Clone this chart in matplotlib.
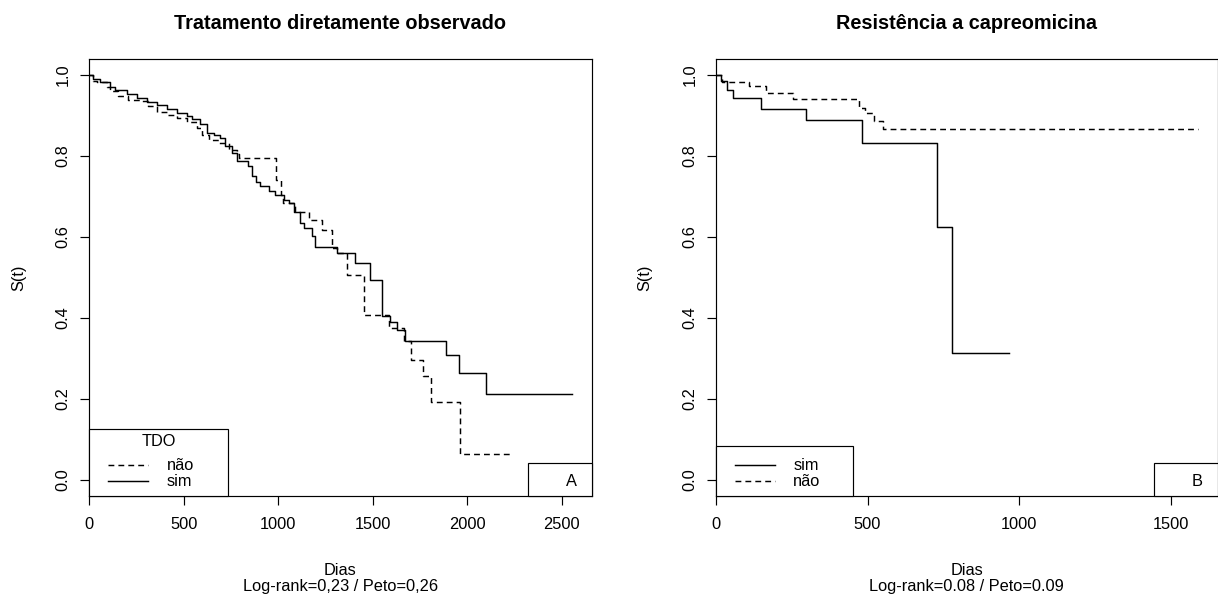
import matplotlib
matplotlib.use("Agg")
import matplotlib.pyplot as plt
from matplotlib.patches import Rectangle
from matplotlib.lines import Line2D

# curvas de Kaplan-Meier (tempo em dias, S(t) a partir daquele tempo)
tdo_sim_t = [0, 21, 57, 110, 136, 198, 251, 304, 357, 410, 463, 516, 542, 586, 622, 660, 692, 719, 754,
             781, 842, 860, 880, 905, 949, 985, 1029, 1055, 1081, 1116, 1134, 1178, 1195, 1310, 1407, 1487, 1549,
             1593, 1628, 1672, 1889, 1954, 2096, 2555]
tdo_sim_s = [1.0, 0.99, 0.982, 0.972, 0.964, 0.953, 0.943, 0.934, 0.926, 0.916, 0.906, 0.898, 0.891, 0.879,
             0.858, 0.852, 0.845, 0.825, 0.808, 0.788, 0.775, 0.75, 0.735, 0.725, 0.714, 0.703, 0.692, 0.684, 0.663,
             0.635, 0.622, 0.602, 0.575, 0.56, 0.536, 0.495, 0.405, 0.39, 0.371, 0.344, 0.308, 0.264, 0.212, 0.212]
tdo_nao_t = [0, 20, 39, 92, 110, 154, 207, 269, 313, 357, 410, 463, 516, 569, 595, 631, 684, 737, 781, 790,
             988, 1015, 1027, 1090, 1160, 1230, 1283, 1310, 1364, 1451, 1586, 1663, 1702, 1766, 1808, 1963, 2228]
tdo_nao_s = [1.0, 0.985, 0.983, 0.972, 0.961, 0.949, 0.939, 0.937, 0.924, 0.909, 0.902, 0.893, 0.885, 0.869,
             0.853, 0.841, 0.833, 0.816, 0.805, 0.795, 0.74, 0.704, 0.684, 0.663, 0.643, 0.617, 0.573, 0.56, 0.507,
             0.408, 0.375, 0.342, 0.297, 0.256, 0.193, 0.065, 0.065]

cap_sim_t = [0, 15, 37, 55, 147, 297, 481, 728, 779, 965]
cap_sim_s = [1.0, 0.985, 0.964, 0.943, 0.917, 0.889, 0.833, 0.625, 0.3125, 0.3125]
cap_nao_t = [0, 19, 110, 164, 253, 473, 490, 522, 550, 1591]
cap_nao_s = [1.0, 0.983, 0.974, 0.957, 0.941, 0.92, 0.906, 0.887, 0.868, 0.868]

titulos = ["Tratamento diretamente observado", "Resistência a capreomicina"]
testes = ["Log-rank=0,23 / Peto=0,26", "Log-rank=0.08 / Peto=0.09"]
xticks_tdo = [0, 500, 1000, 1500, 2000, 2500]
xticks_cap = [0, 500, 1000, 1500]
yticks = [0.0, 0.2, 0.4, 0.6, 0.8, 1.0]

plt.rcParams['font.family'] = ['Liberation Sans', 'DejaVu Sans']
FS = 11.8
LW = 1.05
TRACO = (0, (4.0, 2.8))

W, H = 1218, 604
fig = plt.figure(figsize=(W / 100, H / 100), dpi=100)
ax1 = fig.add_axes([89.3 / W, 108 / H, 502.3 / W, 437 / H])
ax2 = fig.add_axes([716 / W, 108 / H, 501.6 / W, 437 / H])


def px(ax):
    pos = ax.get_position()
    return pos.width * W, pos.height * H


def caixa(ax, x0, y0, w, h):
    # retangulo em pixels a partir do canto inferior esquerdo dos eixos
    wp, hp = px(ax)
    ax.add_patch(Rectangle((x0 / wp, y0 / hp), w / wp, h / hp, transform=ax.transAxes,
                           fill=True, facecolor='white', edgecolor='black', lw=0.85, zorder=5, clip_on=False))


def legenda(ax, w, h, itens, titulo=None):
    wp, hp = px(ax)
    caixa(ax, 0, 0, w, h)
    if titulo:
        ax.text(w / 2 / wp, 54.7 / hp, titulo, transform=ax.transAxes, ha='center', va='center',
                fontsize=FS, zorder=6)
    for (rotulo, estilo), yy in zip(itens, [31, 15]):
        ax.add_line(Line2D([18.7 / wp, 58.7 / wp], [yy / hp, yy / hp], transform=ax.transAxes,
                           color='black', lw=LW, linestyle=estilo, zorder=6))
        ax.text(77.4 / wp, yy / hp, rotulo, transform=ax.transAxes, ha='left', va='center',
                fontsize=FS, zorder=6)


def letra(ax, txt, w=63.5, h=33):
    wp, hp = px(ax)
    caixa(ax, wp - w, 0, w, h)
    ax.text(1 - 20 / wp, 14.5 / hp, txt, transform=ax.transAxes, ha='center', va='center',
            fontsize=FS, zorder=6)


def painel(ax, curvas, xticks, titulo, teste):
    tmax = 0
    for t, s, estilo in curvas:
        ax.step(t, s, where='post', color='black', lw=LW, linestyle=estilo)
        tmax = max(tmax, max(t))
    ax.set_xlim(0, tmax * 1.04)
    ax.set_ylim(-0.04, 1.04)
    ax.set_xticks(xticks)
    ax.set_yticks(yticks)
    ax.set_yticklabels([f"{v:.1f}" for v in yticks])
    ax.tick_params(axis='both', direction='out', length=6.8, width=0.85, labelsize=FS, colors='black')
    ax.tick_params(axis='x', pad=8.5)
    ax.tick_params(axis='y', pad=6.5, labelrotation=90)
    for lab in ax.get_yticklabels():
        lab.set_va('center')
    for sp in ax.spines.values():
        sp.set_linewidth(0.85)
    ax.set_title(titulo, fontsize=14.3, fontweight='bold', pad=21.5)
    ax.set_ylabel("S(t)", fontsize=FS, va='center')
    ax.yaxis.set_label_coords(-71 / px(ax)[0], 0.5)
    ax.set_xlabel("Dias\n" + teste, fontsize=FS, va='top', linespacing=1.12)
    ax.xaxis.set_label_coords(0.5, -66.7 / px(ax)[1])


painel(ax1, [(tdo_nao_t, tdo_nao_s, TRACO), (tdo_sim_t, tdo_sim_s, '-')], xticks_tdo, titulos[0], testes[0])
legenda(ax1, 139, 67, [("não", TRACO), ("sim", '-')], titulo="TDO")
letra(ax1, "A")

painel(ax2, [(cap_nao_t, cap_nao_s, TRACO), (cap_sim_t, cap_sim_s, '-')], xticks_cap, titulos[1], testes[1])
legenda(ax2, 137, 50, [("sim", '-'), ("não", TRACO)])
letra(ax2, "B", w=64)

fig.savefig("out.png", dpi=100)
